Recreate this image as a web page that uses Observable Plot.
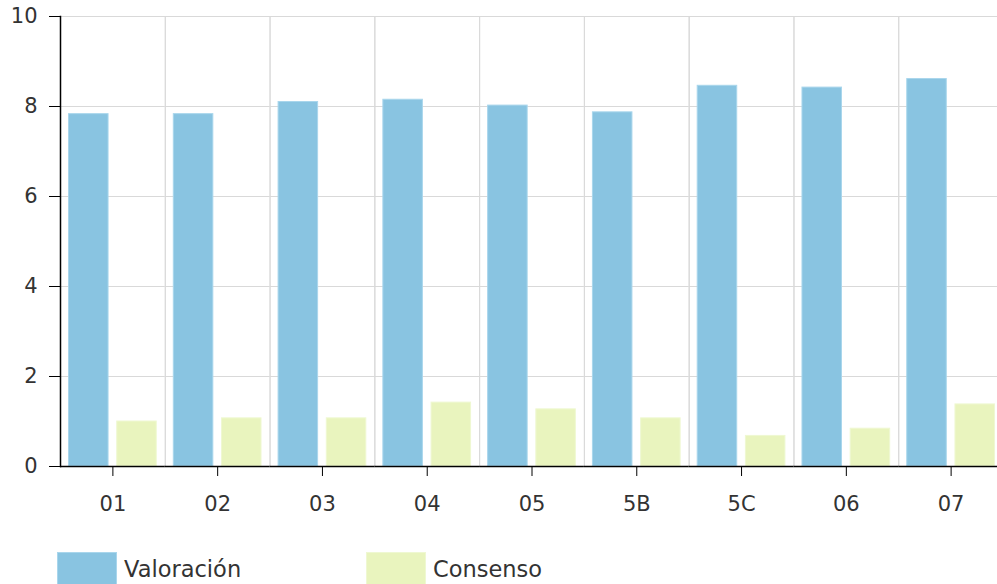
<!DOCTYPE html>
<html>
<head>
<meta charset="utf-8">
<script src="https://cdn.jsdelivr.net/npm/d3@7"></script>
<script src="https://cdn.jsdelivr.net/npm/@observablehq/plot@0.6"></script>
<style>
  html, body { margin: 0; padding: 0; background: #fff; }
  body { width: 997px; height: 584px; overflow: hidden; position: relative; font-family: "DejaVu Sans", Verdana, sans-serif; }
  #chart { position: absolute; left: 0; top: 0; width: 997px; height: 545px; overflow: hidden; }
  #chart svg { max-width: none !important; }
  #legend { position: absolute; left: 58px; top: 553px; display: flex; font-size: 22.5px; color: #333; }
  .item { display: flex; align-items: center; }
  .sw { width: 58px; height: 31px; margin-right: 8px; }
</style>
</head>
<body>
<div id="chart"></div>
<div id="legend"></div>
<script>
const categories = ["01", "02", "03", "04", "05", "5B", "5C", "06", "07"];
const series = ["Valoración", "Consenso"];
const valoracion = [7.83, 7.83, 8.10, 8.15, 8.02, 7.87, 8.46, 8.42, 8.61];
const consenso = [1.00, 1.07, 1.07, 1.42, 1.27, 1.07, 0.68, 0.84, 1.38];
const yTicks = [0, 2, 4, 6, 8, 10];
const colors = ["#89c4e1", "#e9f4be"];
const strokes = ["#a9d6ec", "#eff8d2"];

const data = categories.flatMap((c, i) => [
  {cat: c, serie: series[0], value: valoracion[i]},
  {cat: c, serie: series[1], value: consenso[i]}
]);

const chart = Plot.plot({
  width: 1003,
  height: 545,
  marginLeft: 60,
  marginRight: 0,
  marginTop: 16,
  marginBottom: 79,
  style: {fontFamily: "DejaVu Sans, Verdana, sans-serif", fontSize: "21px", color: "#333", background: "#fff", maxWidth: "none"},
  fx: {domain: categories, padding: 0, round: false, label: null, axis: null},
  x: {domain: series, paddingInner: 0.18, paddingOuter: 0.177, round: false, axis: null},
  y: {domain: [0, 10], axis: null},
  marks: [
    Plot.gridY(yTicks, {stroke: "#d9d9d9", strokeOpacity: 1}),
    Plot.frame({stroke: "#d9d9d9"}),
    ...series.map((s, k) => Plot.barY(data.filter(d => d.serie === s), {
      fx: "cat", x: "serie", y: "value", fill: colors[k], stroke: strokes[k], strokeWidth: 1
    })),
    Plot.ruleY([0], {stroke: "#000", strokeWidth: 1.5}),
    Plot.frame({anchor: "left", stroke: "#000", strokeWidth: 1.5, fx: () => categories[0]}),
    Plot.axisY({ticks: yTicks, tickSize: 11, tickPadding: 12, stroke: "#000", fill: "#333", label: null}),
    Plot.axisFx({anchor: "bottom", tickSize: 10, tickPadding: 20, stroke: "#000", fill: "#333", label: null})
  ]
});
document.getElementById("chart").appendChild(chart);

const legend = document.getElementById("legend");
series.forEach((s, k) => {
  const item = document.createElement("div");
  item.className = "item";
  item.style.width = k === 0 ? "309px" : "auto";
  const sw = document.createElement("div");
  sw.className = "sw";
  sw.style.background = colors[k];
  sw.style.outline = "1px solid " + strokes[k];
  const t = document.createElement("span");
  t.textContent = s;
  item.appendChild(sw);
  item.appendChild(t);
  legend.appendChild(item);
});
</script>
</body>
</html>
